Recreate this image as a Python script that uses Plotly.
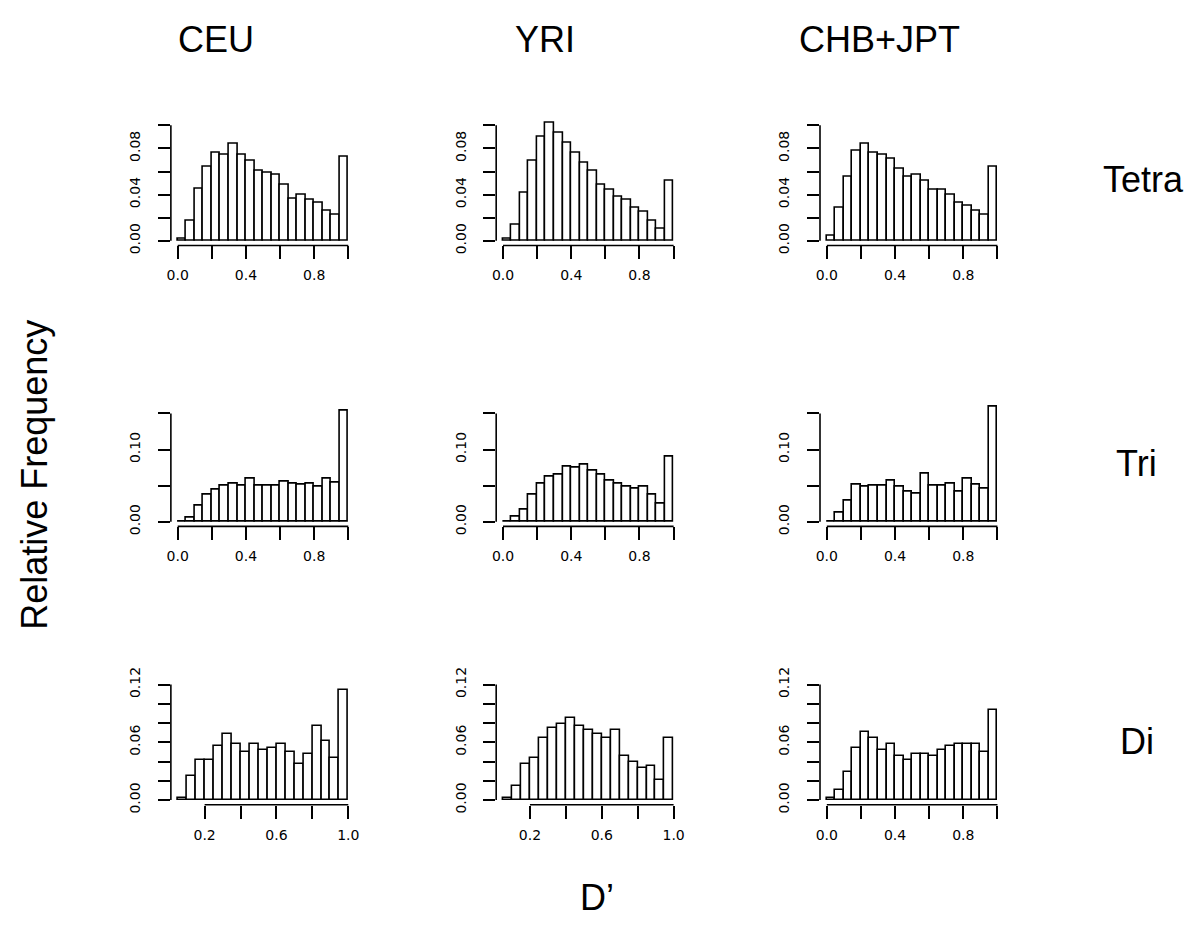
import plotly.graph_objects as go

W, H = 1195, 945

populations = ["CEU", "YRI", "CHB+JPT"]
marker_types = ["Tetra", "Tri", "Di"]

bin_width = 0.05

# Relative frequencies per bin
tetra_ceu = [0.002, 0.0175, 0.045, 0.064, 0.0766, 0.0746, 0.0837, 0.0746, 0.0696, 0.0608,
             0.059, 0.0572, 0.0487, 0.0366, 0.040, 0.0352, 0.033, 0.0265, 0.023, 0.073]
tetra_yri = [0.002, 0.014, 0.042, 0.0696, 0.090, 0.102, 0.0935, 0.085, 0.0766, 0.068,
             0.061, 0.0487, 0.044, 0.0386, 0.0352, 0.0285, 0.0248, 0.0175, 0.0107, 0.0524]
tetra_chb = [0.004, 0.0285, 0.0558, 0.078, 0.0837, 0.0766, 0.0746, 0.0713, 0.0625, 0.0558,
             0.0575, 0.0524, 0.044, 0.044, 0.040, 0.033, 0.030, 0.0265, 0.023, 0.064]

tri_ceu = [0.0, 0.006, 0.023, 0.037, 0.045, 0.050, 0.053, 0.050, 0.0595, 0.050,
           0.050, 0.050, 0.056, 0.053, 0.051, 0.053, 0.048, 0.0595, 0.0536, 0.154]
tri_yri = [0.0, 0.0064, 0.017, 0.037, 0.053, 0.062, 0.065, 0.076, 0.0755, 0.0786,
           0.0705, 0.065, 0.0564, 0.053, 0.048, 0.0455, 0.048, 0.037, 0.0255, 0.090]
tri_chb = [0.0, 0.012, 0.0286, 0.051, 0.048, 0.050, 0.050, 0.0564, 0.048, 0.042,
           0.0395, 0.067, 0.050, 0.050, 0.053, 0.042, 0.0595, 0.051, 0.0455, 0.160]

# CEU and YRI dinucleotide histograms start at D' = 0.05 (19 bins)
di_ceu = [0.0027, 0.025, 0.042, 0.042, 0.056, 0.069, 0.058, 0.050, 0.058, 0.052,
          0.054, 0.058, 0.050, 0.0376, 0.048, 0.077, 0.061, 0.044, 0.114]
di_yri = [0.0027, 0.015, 0.0376, 0.044, 0.0645, 0.075, 0.079, 0.085, 0.077, 0.0726,
          0.0685, 0.0645, 0.0726, 0.046, 0.0397, 0.033, 0.035, 0.021, 0.0645]
di_chb = [0.0027, 0.0108, 0.029, 0.054, 0.0706, 0.0645, 0.052, 0.058, 0.046, 0.0417,
          0.048, 0.048, 0.0457, 0.052, 0.056, 0.058, 0.058, 0.058, 0.050, 0.0934]

bin_start = {
    ("Tetra", "CEU"): 0.0, ("Tetra", "YRI"): 0.0, ("Tetra", "CHB+JPT"): 0.0,
    ("Tri", "CEU"): 0.0, ("Tri", "YRI"): 0.0, ("Tri", "CHB+JPT"): 0.0,
    ("Di", "CEU"): 0.05, ("Di", "YRI"): 0.05, ("Di", "CHB+JPT"): 0.0,
}
values = {
    ("Tetra", "CEU"): tetra_ceu, ("Tetra", "YRI"): tetra_yri, ("Tetra", "CHB+JPT"): tetra_chb,
    ("Tri", "CEU"): tri_ceu, ("Tri", "YRI"): tri_yri, ("Tri", "CHB+JPT"): tri_chb,
    ("Di", "CEU"): di_ceu, ("Di", "YRI"): di_yri, ("Di", "CHB+JPT"): di_chb,
}

# axis ticks / labels
x_ticks_full = [0.0, 0.2, 0.4, 0.6, 0.8, 1.0]
x_labels_full = ["0.0", "", "0.4", "", "0.8", ""]
x_ticks_di = [0.2, 0.4, 0.6, 0.8, 1.0]
x_labels_di = ["0.2", "", "0.6", "", "1.0"]

y_ticks = {
    "Tetra": [0.0, 0.02, 0.04, 0.06, 0.08, 0.10],
    "Tri": [0.0, 0.05, 0.10, 0.15],
    "Di": [0.0, 0.02, 0.04, 0.06, 0.08, 0.10, 0.12],
}
y_labels = {
    "Tetra": ["0.00", "", "0.04", "", "0.08", ""],
    "Tri": ["0.00", "", "0.10", ""],
    "Di": ["0.00", "", "", "0.06", "", "", "0.12"],
}
y_top = {"Tetra": 0.10, "Tri": 0.16, "Di": 0.12}

# layout in pixels
col_left = [168.0, 495.5, 821.5]
col_width = 185.5
row_top = [110.3, 397.9, 682.9]
row_height = 127.7

FONT = "Liberation Sans, Arial, Helvetica, sans-serif"
LW = 1.6
TICKFONT = dict(size=14, family="DejaVu Sans, Verdana, sans-serif", color="black")

fig = go.Figure()
layout = dict(
    width=W, height=H, margin=dict(l=0, r=0, t=0, b=0),
    paper_bgcolor="white", plot_bgcolor="white", showlegend=False,
    font=dict(family=FONT, color="black"),
)
shapes = []
annotations = []

k = 0
for r, mt in enumerate(marker_types):
    for c, pop in enumerate(populations):
        k += 1
        xa = "xaxis" if k == 1 else f"xaxis{k}"
        ya = "yaxis" if k == 1 else f"yaxis{k}"
        xr = "x" if k == 1 else f"x{k}"
        yr = "y" if k == 1 else f"y{k}"
        vals = values[(mt, pop)]
        start = bin_start[(mt, pop)]
        n = len(vals)
        centers = [start + (i + 0.5) * bin_width for i in range(n)]
        xmin, xmax = start, start + n * bin_width
        span = xmax - xmin
        fig.add_trace(go.Bar(
            x=centers, y=vals, width=[bin_width] * n, xaxis=xr, yaxis=yr,
            marker=dict(color="white", line=dict(color="black", width=LW)),
            hoverinfo="x+y",
        ))
        if mt == "Di" and pop != "CHB+JPT":
            xt, xl = x_ticks_di, x_labels_di
        else:
            xt, xl = x_ticks_full, x_labels_full
        yt, yl = y_ticks[mt], y_labels[mt]
        top = y_top[mt]
        x0p = col_left[c]
        x1p = x0p + col_width
        y0p = row_top[r]
        y1p = y0p + row_height
        layout[xa] = dict(
            domain=[x0p / W, x1p / W], anchor=yr,
            range=[xmin - 0.04 * span, xmax + 0.04 * span],
            showgrid=False, zeroline=False, showline=False,
            ticks="outside", ticklen=13, tickwidth=LW, tickcolor="black",
            tickvals=xt, ticktext=xl, ticklabelstandoff=4,
            tickfont=TICKFONT,
        )
        layout[ya] = dict(
            domain=[1 - y1p / H, 1 - y0p / H], anchor=xr,
            range=[-0.04 * top, 1.04 * top],
            showgrid=False, zeroline=False, showline=False,
            ticks="outside", ticklen=12, tickwidth=LW, tickcolor="black",
            tickvals=yt, ticktext=yl, tickangle=-90, ticklabelstandoff=12,
            tickfont=TICKFONT,
        )
        # axis lines spanning only the tick range (R style)
        shapes.append(dict(type="line", xref=xr, yref=f"{yr} domain",
                           x0=xt[0], x1=xt[-1], y0=0, y1=0,
                           line=dict(color="black", width=LW)))
        shapes.append(dict(type="line", xref=f"{xr} domain", yref=yr,
                           x0=0, x1=0, y0=yt[0], y1=yt[-1],
                           line=dict(color="black", width=LW)))

# column titles
title_pos = [(213.8, 27), (545, 27), (881, 27)]
for pop, (px, py) in zip(populations, title_pos):
    annotations.append(dict(text=pop, x=px / W, y=1 - py / H, xref="paper", yref="paper",
                            showarrow=False, xanchor="center", yanchor="middle",
                            font=dict(size=36, family=FONT, color="black")))
# row labels
row_pos = [(1146.7, 170), (1140, 461), (1141, 746)]
for mt, (px, py) in zip(marker_types, row_pos):
    annotations.append(dict(text=mt, x=px / W, y=1 - py / H, xref="paper", yref="paper",
                            showarrow=False, xanchor="center", yanchor="middle",
                            font=dict(size=36, family=FONT, color="black")))
annotations.append(dict(text="Relative Frequency", x=31 / W, y=1 - 473 / H,
                        xref="paper", yref="paper", showarrow=False, textangle=-90,
                        xanchor="center", yanchor="middle",
                        font=dict(size=36, family=FONT, color="black")))
annotations.append(dict(text="D’", x=597 / W, y=1 - 906 / H,
                        xref="paper", yref="paper", showarrow=False,
                        xanchor="center", yanchor="middle",
                        font=dict(size=36, family=FONT, color="black")))

layout["shapes"] = shapes
layout["annotations"] = annotations
layout["bargap"] = 0
fig.update_layout(**layout)
fig.write_html("out.html")
